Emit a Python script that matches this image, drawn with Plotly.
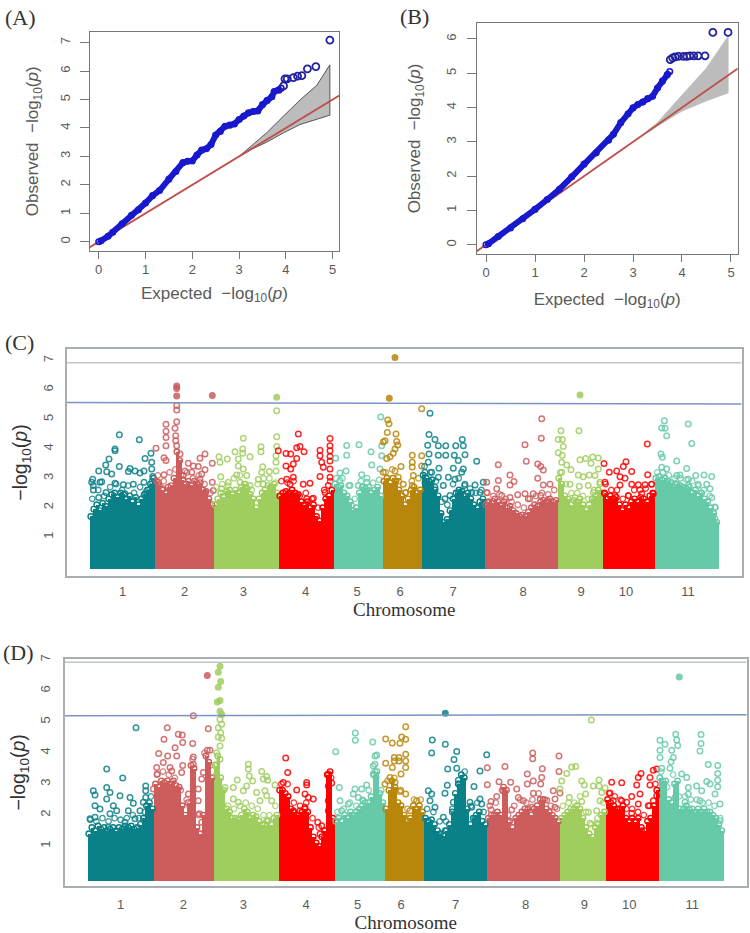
import plotly.graph_objects as go

# ---------- QQ plots ----------
A_CURVE_X = [0,0.05,0.2,0.3,0.5,0.7,0.85,1.0,1.15,1.3,1.5,1.65,1.8,1.9,2.0,2.1,2.2,2.3,2.4,2.5,2.6,2.7,2.8,2.9,3.0,3.1,3.2,3.3,3.4,3.5,3.6,3.7,3.75,3.85,3.9]
A_CURVE_Y = [0,0.03,0.19,0.33,0.63,0.93,1.12,1.36,1.62,1.8,2.2,2.47,2.78,2.83,2.84,3.05,3.22,3.27,3.42,3.75,3.88,4.06,4.1,4.14,4.3,4.42,4.53,4.58,4.6,4.82,4.97,5.1,5.28,5.33,5.4]
A_TAIL_X = [3.95,3.98,4.03,4.16,4.25,4.34,4.46,4.64,4.94]
A_TAIL_Y = [5.48,5.73,5.73,5.77,5.82,5.84,6.08,6.16,7.09]
A_BAND_X = [3.0,3.3,3.59,3.95,4.3,4.66,4.94]
A_BAND_UP = [3.0,3.42,3.83,4.42,4.98,5.5,6.22]
A_BAND_LO = [3.0,3.28,3.5,3.83,4.12,4.3,4.45]

B_CURVE_X = [0,0.05,0.25,0.5,0.75,1.0,1.25,1.5,1.75,2.0,2.25,2.5,2.6,2.75,2.9,3.0,3.1,3.2,3.3,3.4,3.5,3.6,3.7,3.75]
B_CURVE_Y = [0,0.03,0.24,0.49,0.76,1.03,1.32,1.62,1.98,2.35,2.68,3.05,3.22,3.56,3.82,3.99,4.09,4.16,4.26,4.33,4.57,4.77,4.96,5.05]
B_TAIL_X = [3.76,3.81,3.86,3.93,4.03,4.1,4.16,4.24,4.33,4.47,4.63,4.94]
B_TAIL_Y = [5.40,5.45,5.48,5.49,5.49,5.49,5.51,5.51,5.51,5.51,6.19,6.19]
B_BAND_X = [3.3,3.5,4.0,4.5,4.94]
B_BAND_UP = [3.33,3.56,4.36,5.15,6.07]
B_BAND_LO = [3.28,3.46,3.9,4.2,4.43]

REF_LINE = [-0.19,5.14]

# ---------- Manhattan plots ----------
CHR_LABELS = ["1","2","3","4","5","6","7","8","9","10","11"]
CHR_COLORS = ["#0a8088","#cd5c5c","#9fcd5e","#ff0000","#66c9a8","#b8860b","#0a8088","#cd5c5c","#9fcd5e","#ff0000","#66c9a8"]

C_BOUNDS = [0.3,66,124.3,189.3,244.3,293.3,332.7,395.3,468.3,513.7,565.3,629.3]
C_TICKS = [33.7,95.7,154.3,216.7,268,311,364,434,492,537,599]
C_THRESH_BLUE = [5.57,5.52]
C_THRESH_GREY = [6.92,6.92]
D_BOUNDS = [0.3,67,126.3,191.3,247.3,297.3,337,399.7,473,519,571.3,636.3]
D_TICKS = [33.7,96.3,156.3,219,270.7,314,368.7,438.7,497.3,542.3,605.3]
D_THRESH_BLUE = [5.2,5.23]
D_THRESH_GREY = [6.92,6.92]

# envelope of the dense lower part of every chromosome
C_ENV1 = [1.7,1.95,2.1,1.9,2.15,2.05,2.3,2.45,2.5,2.35,2.5,2.45,2.3,2.4,2.2,2.35,2.1,2.3,2.45,2.6,2.8,3.0]
C_ENV2 = [2.9,2.75,2.6,2.5,2.7,2.75,3.0,3.9,3.6,2.95,2.8,2.9,2.75,2.9,2.8,2.85,2.6,2.55,2.3,2.1]
C_ENV3 = [2.1,2.3,2.5,2.35,2.55,2.6,2.45,2.6,2.5,2.7,2.8,2.65,2.45,2.3,2.0,2.3,2.5,2.6,2.75,2.7,2.8,2.5]
C_ENV4 = [2.4,2.5,2.55,2.5,2.6,2.5,2.45,2.2,2.1,2.2,2.0,2.1,1.7,1.55,2.0,2.3,2.4,2.6]
C_ENV5 = [2.8,2.7,2.75,2.5,2.4,2.2,1.9,2.0,2.5,2.7,2.65,2.7,2.5,2.6,2.7,2.4]
C_ENV6 = [2.9,3.0,2.85,3.0,2.9,2.6,2.4,2.1,2.3,2.6,2.7,2.5,2.6]
C_ENV7 = [3.1,3.0,2.9,2.95,2.6,2.4,1.8,1.5,1.6,1.9,2.3,2.5,2.6,2.55,2.4,2.5,2.3,2.1,2.0,2.2,2.3]
C_ENV8 = [2.1,2.2,2.15,2.3,2.2,2.1,2.2,2.0,2.05,1.9,1.8,1.7,1.75,1.7,1.85,2.0,2.1,2.05,2.2,2.25,2.2,2.3,2.2,2.25]
C_ENV9 = [3.0,2.8,2.4,2.3,2.1,2.25,2.2,2.3,2.1,1.9,2.1,2.3,2.4,2.6,2.5]
C_ENV10 = [2.5,2.3,2.4,2.3,2.35,2.1,1.9,2.1,2.0,2.2,2.3,2.2,2.35,2.3,2.2,2.4,2.5]
C_ENV11 = [3.0,3.05,2.95,3.0,2.9,2.85,2.7,2.8,2.75,2.7,2.65,2.7,2.5,2.6,2.4,2.5,2.3,2.2,2.0,1.8,1.5]

D_ENV1 = [1.4,1.6,1.5,1.65,1.55,1.6,1.5,1.55,1.6,1.5,1.6,1.55,1.65,1.6,1.65,1.55,1.6,1.7,1.9,2.3,2.4,2.2]
D_ENV2 = [3.0,2.9,3.1,3.05,3.1,3.0,3.1,2.95,2.9,2.3,2.0,2.4,3.6,3.5,1.6,1.4,2.0,3.9,3.7,3.2]
D_ENV3 = [3.6,3.9,3.2,2.8,2.2,2.1,1.9,1.9,1.85,2.0,2.2,2.1,1.9,2.0,1.95,1.8,1.7,1.7,1.8,1.7,1.9,2.0]
D_ENV4 = [2.8,2.8,2.7,2.6,2.2,2.1,2.0,2.0,2.1,2.2,2.1,1.6,1.3,1.1,1.0,1.3,1.5,3.3,3.4,1.9]
D_ENV5 = [1.8,1.9,1.8,2.0,1.9,2.1,2.0,2.1,2.2,2.3,2.4,2.4,2.6,3.3,3.4,2.7,2.4]
D_ENV6 = [2.2,2.8,3.1,2.9,2.4,2.3,2.0,1.8,1.9,2.3,2.2,2.3,2.1]
D_ENV7 = [1.9,1.8,1.85,1.7,1.5,1.4,1.35,1.5,1.7,2.1,2.7,3.0,3.3,3.2,2.2,1.7,1.9,2.0,2.1,1.8,1.7]
D_ENV8 = [1.9,2.0,2.0,2.1,2.0,2.9,2.8,1.8,1.6,1.9,2.0,2.1,2.2,2.2,2.0,2.2,2.3,2.5,2.5,2.2,2.1,2.0,1.9,1.8]
D_ENV9 = [1.9,2.0,2.1,2.2,2.2,2.3,2.2,1.9,1.6,1.4,1.3,1.6,1.7,2.0,2.1]
D_ENV10 = [2.5,2.4,2.3,2.2,2.2,2.3,1.9,1.8,1.9,1.8,1.9,1.6,1.5,1.8,1.9,2.3,2.8]
D_ENV11 = [3.2,3.1,3.1,2.5,2.4,3.0,3.1,2.2,2.2,2.3,2.2,2.2,2.1,2.2,2.1,2.2,2.1,2.1,2.0,1.9,1.7,1.5]

# row of loose SNPs just above the dense part
C_MID1 = [2.3,2.6,2.4,2.7,2.8,2.6,2.75,2.5,2.7,2.55,2.9]
C_MID2 = [3.1,2.9,3.2,3.3,3.1,3.2,3.0,3.1,2.8,2.5]
C_MID3 = [2.7,2.8,2.75,3.0,3.1,2.8,2.6,2.8,3.0,3.0,2.85]
C_MID4 = [2.9,2.85,2.9,2.4,2.5,2.3,2.0,2.6,2.9]
C_MID5 = [3.0,3.0,2.75,2.3,2.9,3.0,2.85,2.95]
C_MID6 = [3.2,3.3,2.9,2.5,2.9,3.0]
C_MID7 = [3.4,3.2,2.9,2.2,2.1,2.8,3.0,2.75,2.65,2.5,2.6]
C_MID8 = [2.5,2.4,2.45,2.3,2.2,2.1,2.0,2.3,2.4,2.5,2.45,2.6]
C_MID9 = [3.2,2.8,2.5,2.5,2.4,2.3,2.6,2.8]
C_MID10 = [2.8,2.6,2.6,2.3,2.4,2.6,2.6,2.65,2.8]
C_MID11 = [3.2,3.2,3.1,3.0,3.0,2.95,2.9,2.8,2.6,2.4,2.0]

D_MID1 = [1.85,1.8,1.9,1.8,1.9,1.85,1.9,2.0,1.9,2.1,2.6]
D_MID2 = [3.3,3.4,3.3,3.2,2.8,2.5,3.8,2.0,4.0,3.6]
D_MID3 = [3.3,2.4,2.3,2.2,2.3,2.4,2.3,2.2,2.0,2.0,2.3]
D_MID4 = [3.0,3.0,2.4,2.3,2.4,1.9,1.6,1.5,3.2]
D_MID5 = [2.1,2.2,2.4,2.3,2.5,2.8,3.4,2.8]
D_MID6 = [3.1,3.2,2.8,2.2,2.5,2.5]
D_MID7 = [2.2,2.1,1.8,1.8,2.2,3.0,3.4,2.3,2.4,2.1]
D_MID8 = [2.3,2.4,2.8,2.0,2.3,2.5,2.4,2.5,2.7,2.5,2.3,2.2]
D_MID9 = [2.3,2.4,2.4,2.6,2.1,1.7,1.9,2.4]
D_MID10 = [2.7,2.6,2.5,2.2,2.2,2.1,2.0,2.3,3.0]
D_MID11 = [3.4,2.9,3.3,2.6,2.6,2.5,2.5,2.4,2.4,2.3,1.9]

# individual SNPs (position, -log10 p)
C_PTS1 = [(30.3,4.48),(50.3,4.31),(26,3.99),(26,3.93),(20,3.65),(16.7,3.45),(30.3,3.4),(9.7,3.25),(17.7,3.22),(22.7,3.14),(41,3.33),(46,3.25),(51,3.18),(55,3.25),(39.3,3.23),(56,3.67),(62,3.85),(62.7,3.54),(62.7,3.31),(3.7,2.97),(12.7,2.88),(4.3,2.75),(26,2.83),(34.3,2.78),(44.3,2.8),(55,2.86),(4.3,2.6),(17,2.52),(9.7,2.35),(55,2.43),(36,2.47),(11,2.86),(63.7,3.06),(2.7,2.86)]
C_PTS2 = [(67,4.02),(77,4.83),(77,4.6),(77,4.38),(77,4.1),(75,3.7),(77,3.6),(87.7,6.13),(87.7,6.05),(87.7,5.79),(87.7,5.47),(87.7,5.32),(87.7,4.92),(86,4.7),(86.7,4.44),(86.7,4.27),(87.7,4.1),(123.3,5.81),(91,3.82),(116,3.82),(111,3.68),(123.3,3.51),(99.3,3.51),(104.3,3.42),(109.3,3.4),(116,3.29),(96,3.25),(75,3.12),(102.7,3.2),(112.7,3.14),(69.3,2.86),(74.3,2.64),(123.3,2.86),(124.3,2.58),(116,2.52),(94.3,3.09),(111,2.97)]
C_PTS3 = [(154.3,4.36),(172,4.07),(172,3.9),(146,3.9),(153.7,3.99),(153.7,3.85),(130,3.73),(138.3,3.65),(131,3.54),(149.3,3.65),(161,3.73),(187.7,4.41),(187.7,4.08),(187.7,5.75),(187.7,5.29),(187,3.76),(187,3.54),(187,3.25),(149.3,3.42),(154.3,3.31),(157.7,3.09),(131.7,3.05),(147.7,3.11),(173.7,3.39),(180.3,3.23),(172.7,3.2),(169.3,2.97),(139.3,2.86),(151,2.86),(174.3,2.8),(132.7,2.64),(161,2.75)]
C_PTS4 = [(209.3,4.5),(241,4.35),(241,4.1),(241,3.93),(241,3.74),(241,3.59),(231,3.95),(231,3.76),(207.7,4.04),(211,4.08),(189.3,3.93),(197,3.84),(201.7,3.82),(215,3.9),(207.7,3.67),(197,3.42),(204.3,3.48),(201.7,3.31),(232.7,3.54),(234.3,3.37),(241,3.31),(231,3.06),(241,3.03),(197.7,2.97),(204.3,3.03),(201,2.8),(214.3,2.8),(221,2.83),(217.7,2.3),(224.3,2.32),(239.3,2.75),(236,2.52)]
C_PTS5 = [(246.7,3.68),(257.7,4.11),(270,4.14),(257.7,3.78),(282,3.9),(282.7,3.45),(257,3.25),(251,3.18),(272.7,3.12),(251,2.92),(261,2.75),(269.3,2.75),(277.7,2.86),(262.7,2.07),(291.7,5.08),(292.7,4.1),(292.7,3.76),(291,3.31)]
C_PTS6 = [(306,7.1),(300.3,5.72),(332.7,5.36),(298.7,4.98),(300,4.85),(298.3,4.55),(307,4.5),(296,4.27),(307.7,4.25),(294.3,4.23),(308.7,4.13),(306,3.99),(304.3,3.85),(323.3,3.78),(332.7,3.76),(301,3.73),(297.7,3.67),(323.3,3.54),(323.3,3.38),(332.7,3.42),(294.3,3.2),(306,3.25),(312,3.4),(324.3,3.09),(309.3,3.03),(316.7,2.52),(323.3,2.75),(314.3,2.8)]
C_PTS7 = [(341,5.21),(340,4.49),(346,4.32),(338.7,4.12),(349.3,4.1),(356.7,4.1),(366.7,4.1),(373.3,4.32),(374.3,4.1),(349.3,3.78),(356.7,3.78),(365.3,3.78),(376,3.8),(340,3.82),(369.3,3.6),(387.7,3.58),(339.3,3.54),(350,3.34),(364.3,3.34),(374.3,3.31),(336,3.2),(342.7,3.2),(359.3,3.03),(372.7,3.2),(349.3,3.03),(336,2.86),(354.3,2.75),(366,2.97),(376,2.8),(386,2.77),(394.3,2.86),(356,2.3),(361,2.41),(346,2.69),(382.7,2.52),(391,2.52),(369.3,2.52)]
C_PTS8 = [(452.7,5.02),(452.3,4.36),(436,4.14),(437.3,3.58),(409.3,3.46),(448.7,3.48),(451.7,3.4),(454.3,3.28),(421,3.11),(409.3,2.92),(448.7,3.0),(425,2.89),(421,2.77),(454.3,2.77),(461,2.8),(407.7,2.64),(397.7,2.52),(412.7,2.41),(421,2.35),(428.7,2.44),(436,2.47),(444.3,2.47),(451.7,2.41),(459.3,2.24),(399.3,2.18),(439.3,2.3),(397.7,2.86)]
C_PTS9 = [(491,5.83),(490,4.61),(472,4.61),(469.3,4.32),(473.3,4.32),(474.3,4.08),(469.3,3.87),(473.3,3.78),(472.7,3.54),(477.7,3.45),(482,3.29),(491,3.63),(496.7,3.67),(503.7,3.72),(509.3,3.69),(502,3.51),(509.3,3.31),(489.3,3.11),(494.3,3.05),(500.3,3.11),(506,3.09),(472.7,3.2),(481,2.8),(490.3,2.73),(499.3,2.75),(504.3,2.52),(486,2.35),(511,2.86)]
C_PTS10 = [(515,3.5),(537,3.56),(534.3,3.4),(527.7,3.25),(520.3,3.2),(542.7,3.23),(558.3,4.16),(558.7,3.12),(531,3.05),(536,3.0),(516,2.86),(531,2.77),(542.7,2.8),(549.3,2.78),(556,2.78),(562.7,2.8),(516,2.47),(526,2.41),(539.3,2.41),(552.7,2.47),(564.3,2.47),(547.7,2.07)]
C_PTS11 = [(575.3,4.95),(599.3,4.84),(572.7,4.71),(576,4.7),(577.7,4.44),(602.7,4.18),(572,3.82),(573.3,3.71),(587.7,3.59),(572.7,3.37),(577.7,3.31),(597.7,3.33),(587.7,3.09),(591,3.11),(606.7,3.09),(615,3.11),(622.7,3.06),(599.3,2.97),(617.7,2.8),(586,2.8),(599.3,2.75),(622.7,2.35),(626,2.02),(626,1.62),(621,2.64),(609.3,2.75)]

D_PTS1 = [(49,4.81),(19.7,3.48),(35.7,3.19),(19.7,2.89),(6.3,2.78),(8,2.65),(23,2.73),(19.7,2.52),(33,2.62),(43,2.57),(46.3,2.38),(58.7,2.94),(58.7,2.78),(58.7,2.57),(56.3,2.41),(8,2.3),(13,2.2),(26.3,2.3),(3,1.88),(41.3,2.14),(48,1.88),(23,2.04),(29.7,2.14),(8,1.93),(53,2.14),(38,1.77),(21.3,1.61)]
D_PTS2 = [(80.3,4.81),(77,4.44),(91.3,4.6),(95.3,4.58),(95.7,4.34),(88,4.17),(105.7,4.3),(106.3,5.2),(120.3,6.49),(121.3,4.78),(120.3,4.09),(123,4.09),(71.7,3.98),(80.7,3.9),(89.7,3.9),(106.3,3.87),(76.3,3.69),(69.7,3.53),(83,3.53),(95.7,3.6),(94.7,3.37),(84.7,3.42),(70.3,3.32),(106.3,3.64),(116.3,3.37),(114.7,3.16),(66.3,2.84),(111.3,2.84),(101.3,2.68),(111.3,2.46),(103,2.25),(112.3,2.04),(114.7,1.77),(104.7,1.5),(117,1.29)]
D_PTS3 = [(133,6.79),(131.3,6.6),(133.7,6.3),(131.3,6.11),(133,5.69),(130.3,5.64),(133,5.34),(134.7,5.24),(133,5.08),(134.7,4.92),(131.3,4.81),(133.7,4.65),(131.3,4.51),(134.7,4.47),(133,4.22),(129.7,4.01),(133,3.8),(129.7,3.64),(161.3,3.64),(161.3,3.48),(174.7,3.4),(162.3,3.26),(179.7,3.24),(176.3,3.16),(165.7,3.1),(150.3,3.13),(180.7,3.12),(188,2.97),(146.3,2.89),(138,2.89),(159.7,2.94),(156.3,2.78),(169.7,2.73),(178,2.78),(179.7,2.62),(146.3,2.52),(173,2.46),(151.3,2.41),(184.7,2.46),(153,1.77),(179.7,1.82)]
D_PTS4 = [(198.7,3.84),(200.7,3.37),(196.3,3.05),(219.7,3.05),(219.7,2.97),(209.7,2.81),(241.3,3.32),(244.7,3.03),(241.3,2.94),(218,2.68),(221.3,2.57),(226.3,2.52),(206.3,2.14),(213,2.14),(218,2.25),(230.7,1.77),(234.7,1.66),(241.3,2.46),(241.3,2.14),(233,1.39)]
D_PTS5 = [(248.7,4.04),(268.3,4.64),(268.3,4.41),(285.7,4.35),(288,3.9),(252.3,2.89),(286.3,3.58),(286.3,3.32),(279.7,2.97),(268,2.84),(274.7,2.84),(266.3,2.68),(271.3,2.57),(253,2.46),(261.3,2.36),(254.7,2.14),(276.3,2.46),(268,1.72),(289.7,3.93),(288,3.64),(289,3.2),(291.3,2.57)]
D_PTS6 = [(318.7,4.84),(298.7,4.45),(305.3,4.32),(314.7,4.51),(318.7,4.44),(313,4.31),(318.7,3.96),(307.3,3.85),(312,3.85),(307.3,3.74),(312,3.74),(318.7,3.74),(298.7,3.67),(305.3,3.53),(318.7,3.53),(314,3.32),(303,3.21),(298,3.0),(308,3.05),(313,2.76),(318.7,2.68),(329.7,2.46),(323,2.14),(321.3,1.72)]
D_PTS7 = [(358.3,5.28),(345.3,4.42),(358.3,4.28),(344.7,4.0),(369.7,4.05),(399.7,3.94),(367,3.79),(360.7,3.48),(369.7,3.51),(393,3.42),(371.3,3.12),(360.3,2.96),(387,2.92),(358,2.7),(341.3,2.78),(344.7,2.68),(343,2.46),(348,2.25),(366.3,2.41),(383,2.41),(393,2.52),(356.3,1.93),(388,1.88),(358,1.5),(384.7,2.25),(394.7,2.36)]
D_PTS8 = [(445.7,4.0),(445.7,3.81),(472,3.9),(400.3,3.52),(418,3.56),(455.3,3.49),(472,3.4),(440.3,3.32),(454.7,3.21),(446.3,3.1),(412,3.07),(423.7,3.06),(400.3,2.98),(440.3,3.0),(453.7,3.0),(429.7,2.84),(416.3,2.78),(446.3,2.7),(466.3,2.78),(473,2.71),(409.7,2.6),(431.3,2.57),(468,2.52),(404,2.44),(436.3,2.46),(459.7,2.48),(404,2.17),(424.7,2.17),(444.7,2.25),(468,2.25),(421.3,1.77)]
D_PTS9 = [(504.3,5.06),(488.7,3.56),(484.7,3.55),(479.7,3.34),(474.7,3.1),(494.7,3.1),(497.3,2.97),(512,3.13),(506.3,2.94),(512,2.94),(518,2.87),(498.7,2.68),(514.7,2.73),(482.3,2.57),(494.7,2.44),(513,2.46),(501.3,2.09),(509.7,2.14),(503,1.74),(509.7,1.74),(473,2.84)]
D_PTS10 = [(524.7,3.06),(534.7,3.04),(554,3.34),(551.3,3.21),(549.7,2.97),(563,3.21),(563,2.97),(569.7,3.48),(566.3,3.44),(523,2.71),(553,2.68),(544.7,2.6),(569.7,2.62),(526.3,2.46),(534.7,2.46),(539.7,2.41),(551.3,2.36),(561.3,2.3),(566.3,2.46),(531.3,2.2),(544.7,2.06),(554.7,1.5)]
D_PTS11 = [(592.3,6.44),(614,4.59),(588.7,4.6),(573,4.41),(589.7,4.42),(578,4.28),(590.7,4.24),(614,4.3),(573,4.09),(584.7,4.09),(613,4.06),(573,3.85),(586.3,3.85),(584,3.72),(621.3,3.63),(630.7,3.6),(574.7,3.51),(583,3.51),(594.7,3.32),(630.7,3.34),(599.7,3.21),(630.7,3.12),(619.7,3.08),(623,3.0),(609.7,2.94),(630.7,2.91),(601.3,2.89),(614.7,2.78),(628,2.68),(601.3,2.68),(598,2.41),(613,2.46),(633,2.36),(633,1.82),(588,2.57)]

C_ENVS = [C_ENV1,C_ENV2,C_ENV3,C_ENV4,C_ENV5,C_ENV6,C_ENV7,C_ENV8,C_ENV9,C_ENV10,C_ENV11]
D_ENVS = [D_ENV1,D_ENV2,D_ENV3,D_ENV4,D_ENV5,D_ENV6,D_ENV7,D_ENV8,D_ENV9,D_ENV10,D_ENV11]
C_MIDS = [C_MID1,C_MID2,C_MID3,C_MID4,C_MID5,C_MID6,C_MID7,C_MID8,C_MID9,C_MID10,C_MID11]
D_MIDS = [D_MID1,D_MID2,D_MID3,D_MID4,D_MID5,D_MID6,D_MID7,D_MID8,D_MID9,D_MID10,D_MID11]
C_PTS = [C_PTS1,C_PTS2,C_PTS3,C_PTS4,C_PTS5,C_PTS6,C_PTS7,C_PTS8,C_PTS9,C_PTS10,C_PTS11]
D_PTS = [D_PTS1,D_PTS2,D_PTS3,D_PTS4,D_PTS5,D_PTS6,D_PTS7,D_PTS8,D_PTS9,D_PTS10,D_PTS11]

W, H = 750, 933
def xd(a, b): return [a / W, b / W]
def yd(top, bottom): return [1 - bottom / H, 1 - top / H]

SANS = "Liberation Sans, Arial, sans-serif"
SERIF = "Liberation Serif, Times New Roman, serif"
GREY = "#5a5a5a"
fig = go.Figure()

def qq(axis_suffix, cx, cy, tx, ty, bx, up, lo, band_line):
    xa, ya = "x" + axis_suffix, "y" + axis_suffix
    fig.add_trace(go.Scatter(x=bx + bx[::-1], y=up + lo[::-1], mode="lines", fill="toself",
                             fillcolor="#bcbcbc", line=dict(color=band_line, width=1), xaxis=xa, yaxis=ya))
    fig.add_trace(go.Scatter(x=REF_LINE, y=REF_LINE, mode="lines", line=dict(color="#bf4f4b", width=1.8), xaxis=xa, yaxis=ya))
    fig.add_trace(go.Scatter(x=cx, y=cy, mode="lines+markers", line=dict(color="#1818cc", width=6),
                             marker=dict(symbol="circle-open", size=5.5, color="#1818cc", line=dict(width=1.6)),
                             xaxis=xa, yaxis=ya))
    fig.add_trace(go.Scatter(x=tx, y=ty, mode="markers",
                             marker=dict(symbol="circle-open", size=7, color="#22229f", line=dict(width=1.8)), xaxis=xa, yaxis=ya))

def manhattan(axis_suffix, bounds, envs, mids, pts, blue, grey, xr):
    xa, ya = "x" + axis_suffix, "y" + axis_suffix
    thr = blue[0]
    for i, env in enumerate(envs):
        col = CHR_COLORS[i]
        step = (bounds[i + 1] - bounds[i]) / len(env)
        xs = [bounds[i] + (k + 0.5) * step for k in range(len(env))]
        fig.add_trace(go.Bar(x=xs, y=[v + 0.1 for v in env], base=-0.1, width=step,
                             marker=dict(color=col, line=dict(width=0)), xaxis=xa, yaxis=ya))
        fig.add_trace(go.Scatter(x=xs, y=env, mode="markers",
                                 marker=dict(symbol="circle-open", size=5.5, color=col, line=dict(width=1.4)), xaxis=xa, yaxis=ya))
        mstep = (bounds[i + 1] - bounds[i]) / len(mids[i])
        mx = [bounds[i] + (k + 0.5) * mstep for k in range(len(mids[i]))]
        fig.add_trace(go.Scatter(x=mx, y=mids[i], mode="markers",
                                 marker=dict(symbol="circle-open", size=5.5, color=col, opacity=0.8, line=dict(width=1.3)), xaxis=xa, yaxis=ya))
        px = [p[0] for p in pts[i]]
        py = [p[1] for p in pts[i]]
        fig.add_trace(go.Scatter(x=px, y=py, mode="markers",
                                 marker=dict(symbol=["circle" if v > thr else "circle-open" for v in py],
                                             size=5.5, color=col, opacity=0.85, line=dict(width=1.5, color=col)),
                                 xaxis=xa, yaxis=ya))
    fig.add_trace(go.Scatter(x=xr, y=grey, mode="lines", line=dict(color="#c4c4c4", width=1.5), xaxis=xa, yaxis=ya))
    fig.add_trace(go.Scatter(x=xr, y=blue, mode="lines", line=dict(color="#7d93c4", width=1.5), xaxis=xa, yaxis=ya))

qq("", A_CURVE_X, A_CURVE_Y, A_TAIL_X, A_TAIL_Y, A_BAND_X, A_BAND_UP, A_BAND_LO, "#555555")
qq("2", B_CURVE_X, B_CURVE_Y, B_TAIL_X, B_TAIL_Y, B_BAND_X, B_BAND_UP, B_BAND_LO, "#bcbcbc")
C_XR = [-22.3, 652.7]
D_XR = [-22.3, 659.7]
manhattan("3", C_BOUNDS, C_ENVS, C_MIDS, C_PTS, C_THRESH_BLUE, C_THRESH_GREY, C_XR)
manhattan("4", D_BOUNDS, D_ENVS, D_MIDS, D_PTS, D_THRESH_BLUE, D_THRESH_GREY, D_XR)

LOGP = "\u2212log<sub>10</sub>(<i>p</i>)"

def qq_axes(dx, dy, xr, yr, ytop, anchor_x, anchor_y, x_off, y_off):
    tf = dict(family=SANS, size=13, color=GREY)
    tt = dict(family=SANS, size=17, color=GREY)
    xaxis = dict(domain=dx, range=xr, anchor=anchor_y, showgrid=False, zeroline=False, showline=True, mirror=True,
                 linecolor="#777777", linewidth=1.2, ticks="outside", ticklen=7, tickcolor="#777777",
                 tickvals=[0,1,2,3,4,5], tickfont=tf,
                 title=dict(text="Expected  " + LOGP, font=tt, standoff=x_off))
    yaxis = dict(domain=dy, range=yr, anchor=anchor_x, showgrid=False, zeroline=False, showline=True, mirror=True,
                 linecolor="#777777", linewidth=1.2, ticks="outside", ticklen=9, tickcolor="#777777",
                 tickvals=list(range(ytop + 1)), tickfont=tf, tickangle=-90, ticklabelstandoff=5,
                 title=dict(text="Observed  " + LOGP, font=tt, standoff=y_off))
    return xaxis, yaxis

def man_axes(dx, dy, xr, yr, ticks, anchor_x, anchor_y, x_len, x_off, y_len, y_off):
    tf = dict(family=SANS, size=13, color=GREY)
    xaxis = dict(domain=dx, range=xr, anchor=anchor_y, showgrid=False, zeroline=False, showline=True, mirror=True,
                 linecolor="#a9aeb3", linewidth=1.6, ticks="outside", ticklen=x_len, tickcolor="rgba(0,0,0,0)",
                 tickvals=ticks, ticktext=CHR_LABELS, tickfont=tf,
                 title=dict(text="Chromosome", font=dict(family=SERIF, size=19, color="#333333"), standoff=x_off))
    yaxis = dict(domain=dy, range=yr, anchor=anchor_x, showgrid=False, zeroline=False, showline=True, mirror=True,
                 linecolor="#a9aeb3", linewidth=1.6, ticks="outside", ticklen=y_len, tickcolor="rgba(0,0,0,0)",
                 tickvals=[1,2,3,4,5,6,7], tickfont=tf, tickangle=-90,
                 title=dict(text=LOGP, font=dict(family=SANS, size=19.5, color="#333333"), standoff=y_off))
    return xaxis, yaxis

xa1, ya1 = qq_axes(xd(90, 339), yd(27, 247), [-0.186, 5.135], [-0.315, 7.38], 7, "x", "y", 10, 14)
xa2, ya2 = qq_axes(xd(476.7, 737.7), yd(18.3, 250), [-0.19, 5.137], [-0.26, 6.46], 6, "x2", "y2", 13, 19)
xa3, ya3 = man_axes(xd(66.7, 741.7), yd(346, 574), C_XR, [-0.318, 7.385], C_TICKS, "x3", "y3", 3, 2, 7, 8)
xa4, ya4 = man_axes(xd(64.7, 746.7), yd(657.3, 885.7), D_XR, [-0.28, 7.03], D_TICKS, "x4", "y4", 6, 3, 8, 7)

def label(text, px, py, size, family, color):
    return dict(text=text, x=px / W, y=1 - py / H, xref="paper", yref="paper", xanchor="center", yanchor="middle",
                showarrow=False, font=dict(size=size, family=family, color=color))

annots = [
    label("(A)", 20, 13, 22, SERIF, "#333333"),
    label("(B)", 414, 12, 22, SERIF, "#333333"),
    label("(C)", 19, 339, 22, SERIF, "#333333"),
    label("(D)", 18, 651, 22, SERIF, "#333333"),
]

fig.update_layout(width=W, height=H, autosize=False, margin=dict(l=0, r=0, t=0, b=0),
                  paper_bgcolor="white", plot_bgcolor="white", showlegend=False, bargap=0,
                  barmode="overlay", annotations=annots,
                  xaxis=xa1, yaxis=ya1, xaxis2=xa2, yaxis2=ya2, xaxis3=xa3, yaxis3=ya3, xaxis4=xa4, yaxis4=ya4)

fig.write_html("out.html", post_script="document.body.style.margin='0';", config={"displayModeBar": False})
